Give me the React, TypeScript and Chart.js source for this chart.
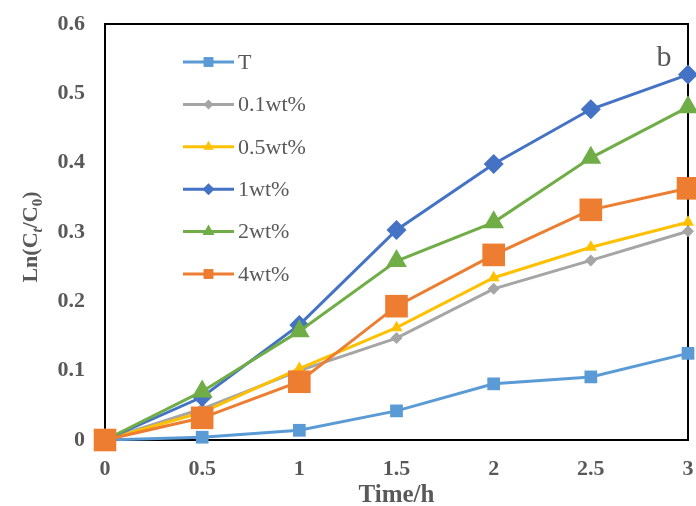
import React, { useEffect, useRef } from "react";
import { Chart, registerables } from "chart.js";

Chart.register(...registerables);

const xValues = [0, 0.5, 1, 1.5, 2, 2.5, 3];
const seriesNames = ["T", "0.1wt%", "0.5wt%", "1wt%", "2wt%", "4wt%"];
const tValues = [0, 0.004, 0.014, 0.042, 0.081, 0.091, 0.125];
const wt01Values = [0, 0.045, 0.1, 0.147, 0.218, 0.259, 0.301];
const wt05Values = [0, 0.04, 0.103, 0.162, 0.234, 0.278, 0.314];
const wt1Values = [0, 0.062, 0.166, 0.303, 0.398, 0.477, 0.527];
const wt2Values = [0, 0.07, 0.157, 0.258, 0.314, 0.407, 0.48];
const wt4Values = [0, 0.032, 0.084, 0.193, 0.267, 0.332, 0.363];
const xTickLabels = ["0", "0.5", "1", "1.5", "2", "2.5", "3"];
const yTickLabels = ["0", "0.1", "0.2", "0.3", "0.4", "0.5", "0.6"];

const seriesValues = [tValues, wt01Values, wt05Values, wt1Values, wt2Values, wt4Values];
const colors = ["#5B9BD5", "#A5A5A5", "#FFC000", "#4472C4", "#70AD47", "#ED7D31"];
const pointStyles = ["rect", "rectRot", "triangle", "rectRot", "triangle", "rect"];
const radii = [9, 6, 7, 10, 12, 16];
const legendRadii = [7, 5, 6, 6, 7, 7];

const FONT = "'Liberation Serif', 'Times New Roman', serif";
const TEXT = "#595959";

function drawMarker(ctx: CanvasRenderingContext2D, style: string, r: number, x: number, y: number, color: string) {
  ctx.save();
  ctx.fillStyle = color;
  ctx.beginPath();
  if (style === "rect") {
    const s = Math.SQRT1_2 * r;
    ctx.rect(x - s, y - s, 2 * s, 2 * s);
  } else if (style === "rectRot") {
    ctx.moveTo(x, y - r);
    ctx.lineTo(x + r, y);
    ctx.lineTo(x, y + r);
    ctx.lineTo(x - r, y);
    ctx.closePath();
  } else {
    ctx.moveTo(x, y - r);
    ctx.lineTo(x + r * Math.sin(Math.PI / 3), y + r * 0.5);
    ctx.lineTo(x - r * Math.sin(Math.PI / 3), y + r * 0.5);
    ctx.closePath();
  }
  ctx.fill();
  ctx.restore();
}

const boxPlugin = {
  id: "box",
  beforeDatasetsDraw(chart: any) {
    const { ctx, chartArea } = chart;
    ctx.save();
    ctx.strokeStyle = "#000";
    ctx.lineWidth = 2;
    ctx.strokeRect(chartArea.left, chartArea.top, chartArea.right - chartArea.left, chartArea.bottom - chartArea.top);
    ctx.restore();
  },
  afterDraw(chart: any) {
    const { ctx, chartArea } = chart;
    ctx.save();
    const lx0 = 183, lx1 = 234, tx = 238;
    seriesNames.forEach((name, i) => {
      const y = 62 + i * 42.4;
      ctx.strokeStyle = colors[i];
      ctx.lineWidth = 3;
      ctx.beginPath();
      ctx.moveTo(lx0, y);
      ctx.lineTo(lx1, y);
      ctx.stroke();
      drawMarker(ctx, pointStyles[i], legendRadii[i], (lx0 + lx1) / 2, y, colors[i]);
      ctx.fillStyle = TEXT;
      ctx.font = `22px ${FONT}`;
      ctx.textAlign = "left";
      ctx.textBaseline = "middle";
      ctx.fillText(name, tx, y + 1);
    });
    ctx.fillStyle = TEXT;
    ctx.font = `30px ${FONT}`;
    ctx.textAlign = "center";
    ctx.textBaseline = "alphabetic";
    ctx.fillText("b", 664, 66);
    ctx.font = `bold 25px ${FONT}`;
    ctx.fillStyle = TEXT;
    ctx.textAlign = "center";
    ctx.fillText("Time/h", (chartArea.left + chartArea.right) / 2, 502);
    ctx.translate(30, 237);
    ctx.rotate(-Math.PI / 2);
    const big = `bold 22px ${FONT}`;
    const sub = `bold italic 15px ${FONT}`;
    const sub0 = `bold 15px ${FONT}`;
    const parts: [string, string, number][] = [
      ["Ln(C", big, 0],
      ["t", sub, 5],
      ["/C", big, 0],
      ["0", sub0, 5],
      [")", big, 0],
    ];
    let total = 0;
    parts.forEach(([s, f]) => {
      ctx.font = f;
      total += ctx.measureText(s).width;
    });
    let x = -total / 2;
    ctx.textAlign = "left";
    ctx.textBaseline = "alphabetic";
    parts.forEach(([s, f, dy]) => {
      ctx.font = f;
      ctx.fillText(s, x, 7 + dy);
      x += ctx.measureText(s).width;
    });
    ctx.restore();
  },
};

export default function App() {
  const ref = useRef<HTMLCanvasElement | null>(null);
  useEffect(() => {
    document.body.style.margin = "0";
    const canvas = ref.current!;
    const chart = new Chart(canvas, {
      type: "line",
      data: {
        datasets: seriesNames.map((name, i) => ({
          label: name,
          data: xValues.map((x, j) => ({ x, y: seriesValues[i][j] })),
          borderColor: colors[i],
          backgroundColor: colors[i],
          pointBackgroundColor: colors[i],
          pointBorderColor: colors[i],
          pointBorderWidth: 0,
          borderWidth: 3,
          pointStyle: pointStyles[i] as any,
          pointRadius: radii[i],
          pointHoverRadius: radii[i],
          tension: 0,
          clip: false as any,
          order: 6 - i,
        })),
      },
      options: {
        animation: false,
        responsive: false,
        devicePixelRatio: 1,
        layout: { autoPadding: false, padding: { left: 0, right: 8, top: 24, bottom: 0 } },
        plugins: { legend: { display: false }, tooltip: { enabled: false } },
        scales: {
          x: {
            type: "linear",
            min: 0,
            max: 3,
            grid: { display: false, drawTicks: false },
            border: { display: false },
            afterFit: (s: any) => {
              s.height = 66;
              s.paddingLeft = 0;
              s.paddingRight = 0;
            },
            afterBuildTicks: (s: any) => {
              s.ticks = xTickLabels.map((l) => ({ value: parseFloat(l) }));
            },
            ticks: {
              padding: 16,
              color: TEXT,
              font: { family: FONT, size: 22, weight: "bold" },
              callback: (v: any) => xTickLabels[Math.round(v * 2)] ?? "",
            },
          },
          y: {
            min: 0,
            max: 0.6,
            grid: { display: false, drawTicks: false },
            border: { display: false },
            afterFit: (s: any) => {
              s.width = 105;
              s.paddingTop = 0;
              s.paddingBottom = 0;
            },
            afterBuildTicks: (s: any) => {
              s.ticks = yTickLabels.map((l) => ({ value: parseFloat(l) }));
            },
            ticks: {
              padding: 20,
              color: TEXT,
              font: { family: FONT, size: 22, weight: "bold" },
              callback: (v: any) => yTickLabels[Math.round(v * 10)] ?? "",
            },
          },
        },
      },
      plugins: [boxPlugin],
    });
    return () => chart.destroy();
  }, []);
  return (
    <div style={{ position: "absolute", left: 0, top: 0, width: 696, height: 506, background: "#fff" }}>
      <canvas ref={ref} width={696} height={506} style={{ width: 696, height: 506 }} />
    </div>
  );
}
